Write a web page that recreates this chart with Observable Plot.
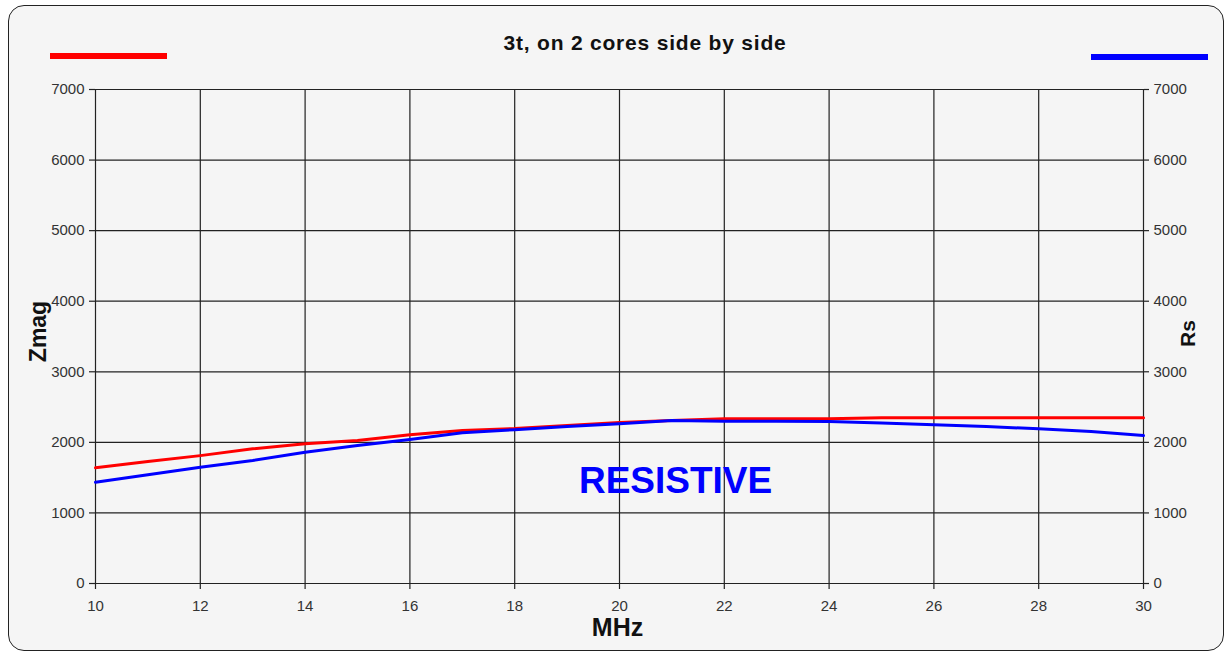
<!DOCTYPE html>
<html>
<head>
<meta charset="utf-8">
<script src="https://cdn.jsdelivr.net/npm/d3@7"></script>
<script src="https://cdn.jsdelivr.net/npm/@observablehq/plot@0.6"></script>
<style>
  html, body { margin: 0; padding: 0; background: #ffffff; }
  #wrap { position: relative; width: 1227px; height: 655px; overflow: hidden; font-family: "Liberation Sans", Arial, sans-serif; }
  #frame { position: absolute; left: 8px; top: 5px; width: 1216px; height: 646px; box-sizing: border-box;
           border: 1.5px solid #222; border-radius: 16px; background: #f5f5f5; }
  #title { position: absolute; left: 345px; width: 600px; top: 32px; line-height: 21px; text-align: center;
           font-size: 21px; font-weight: bold; color: #111; letter-spacing: 0.8px; }
  .swatch { position: absolute; height: 6px; }
  #chart { position: absolute; left: 0; top: 0; }
</style>
</head>
<body>
<div id="wrap">
  <div id="frame"></div>
  <div id="title"></div>
  <div class="swatch" id="sw-zmag" style="left:50px; top:53px; width:117px;"></div>
  <div class="swatch" id="sw-rs" style="left:1091px; top:54px; width:117px;"></div>
  <div id="chart"></div>
</div>
<script>
// ---- data ----
const titleText = "3t, on 2 cores side by side";
const mhz  = [10, 11, 12, 13, 14, 15, 16, 17, 18, 19, 20, 21, 22, 23, 24, 25, 26, 27, 28, 29, 30];
const zmag = [1640, 1729, 1812, 1908, 1980, 2026, 2107, 2168, 2195, 2240, 2280, 2310, 2334, 2334, 2336, 2348, 2348, 2348, 2348, 2348, 2348];
const rs   = [1435, 1540, 1648, 1743, 1861, 1955, 2040, 2135, 2180, 2225, 2263, 2310, 2300, 2298, 2295, 2275, 2249, 2225, 2192, 2154, 2097];
const xTicks = [10, 12, 14, 16, 18, 20, 22, 24, 26, 28, 30];
const yTicks = [0, 1000, 2000, 3000, 4000, 5000, 6000, 7000];
const seriesNames = ["Zmag", "Rs"];
const seriesColors = ["#ff0000", "#0000ff"];
const annotation = [{label: "RESISTIVE", mhz: 21.07, value: 1445}];
const xLabel = "MHz";

// ---- build ----
document.getElementById("title").textContent = titleText;
document.getElementById("sw-zmag").style.background = seriesColors[0];
document.getElementById("sw-rs").style.background = seriesColors[1];

const zData = mhz.map((m, i) => ({mhz: m, value: zmag[i]}));
const rData = mhz.map((m, i) => ({mhz: m, value: rs[i]}));

const gridStyle = {stroke: "#222", strokeOpacity: 1, strokeWidth: 1.2};
const plain = d => String(d);

const chart = Plot.plot({
  width: 1227,
  height: 655,
  marginLeft: 95,
  marginRight: 84,
  marginTop: 89,
  marginBottom: 72,
  style: {background: "transparent", fontFamily: "'Liberation Sans', Arial, sans-serif", fontSize: "15px", color: "#333", overflow: "visible"},
  x: {domain: [10, 30]},
  y: {domain: [0, 7000]},
  marks: [
    Plot.gridX(xTicks, gridStyle),
    Plot.gridY(yTicks, gridStyle),
    Plot.axisX(xTicks, {tickSize: 6, tickPadding: 11, label: null, fontSize: 15, tickFormat: plain, stroke: "#222", strokeWidth: 1.2}),
    Plot.axisY(yTicks, {anchor: "left", tickSize: 6, tickPadding: 5, label: null, fontSize: 15, tickFormat: plain, stroke: "#222", strokeWidth: 1.2}),
    Plot.axisY(yTicks, {anchor: "right", tickSize: 5, tickPadding: 5, label: null, fontSize: 15, tickFormat: plain, stroke: "#222", strokeWidth: 1.2}),
    Plot.line(zData, {x: "mhz", y: "value", stroke: seriesColors[0], strokeWidth: 3}),
    Plot.line(rData, {x: "mhz", y: "value", stroke: seriesColors[1], strokeWidth: 3}),
    Plot.text(annotation, {x: "mhz", y: "value", text: "label", fill: "#0000ff", fontSize: 37, fontWeight: "bold", lineAnchor: "middle", textAnchor: "middle"}),
    Plot.text([seriesNames[0]], {frameAnchor: "left", textAnchor: "middle", dx: -57, dy: -5, rotate: -90, fontSize: 23, fontWeight: "bold", fill: "#111", lineAnchor: "middle"}),
    Plot.text([seriesNames[1]], {frameAnchor: "right", textAnchor: "middle", dx: 45, dy: -3, rotate: -90, fontSize: 21, fontWeight: "bold", fill: "#111", lineAnchor: "middle"}),
    Plot.text([xLabel], {frameAnchor: "bottom", textAnchor: "middle", dx: -2, dy: 44, fontSize: 25, fontWeight: "bold", fill: "#111", lineAnchor: "middle"})
  ]
});
document.getElementById("chart").appendChild(chart);
</script>
</body>
</html>
